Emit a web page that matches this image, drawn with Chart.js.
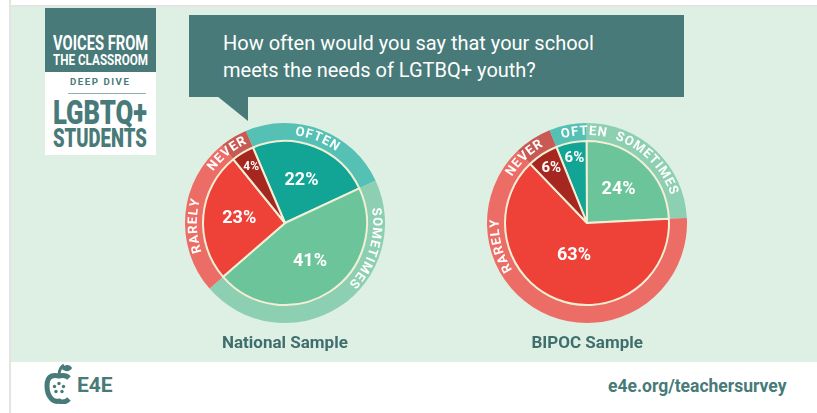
<!DOCTYPE html>
<html>
<head>
<meta charset="utf-8">
<script src="https://cdn.jsdelivr.net/npm/chart.js@4.4.1/dist/chart.umd.min.js"></script>
<style>
body { margin: 0; width: 817px; height: 413px; overflow: hidden; background: #fff; font-family: Roboto, sans-serif; position: relative; }
#vline { position: absolute; left: 9px; top: 0; width: 2px; height: 413px; background: #e4e4e4; }
#hline { position: absolute; left: 9px; top: 5px; width: 808px; height: 2px; background: #e4e4e4; }
#panel { position: absolute; left: 11px; top: 7px; width: 806px; height: 355px; background: #deefe3; }
.abs { position: absolute; white-space: nowrap; line-height: 1; }
.fit { transform-origin: 0 0; }
#logoTop { position: absolute; left: 45px; top: 8px; width: 111px; height: 64px; background: #477a78; }
#logoBot { position: absolute; left: 45px; top: 72px; width: 111px; height: 83px; background: #fff; }
#logoRule { position: absolute; left: 68px; top: 93px; width: 78px; height: 1px; background: #8fb0ae; }
#bubble { position: absolute; left: 189px; top: 15px; width: 495px; height: 82px; background: #477a78; }
.q { color: #fff; font-size: 20px; left: 223px; }
.cap { color: #3f6f6d; font-weight: bold; font-size: 17px; }
canvas { position: absolute; }
</style>
</head>
<body>
<div id="vline"></div>
<div id="hline"></div>
<div id="panel"></div>

<div id="logoTop"></div>
<svg class="abs" style="left:0;top:0" width="200" height="100"><polygon points="55,71 67,71 67,81" fill="#477a78"/></svg>
<div id="logoBot"></div>
<div id="logoRule"></div>
<div class="abs fit" data-w="95" data-cx="100" style="top:33px;font-size:20px;font-weight:bold;color:#fff">VOICES FROM</div>
<div class="abs fit" data-w="95" data-cx="100" style="top:53px;font-size:15px;font-weight:bold;color:#fff">THE CLASSROOM</div>
<div class="abs fit" data-w="60" data-cx="100" style="top:77px;font-size:9.5px;font-weight:bold;letter-spacing:1.5px;color:#477a78">DEEP DIVE</div>
<div class="abs fit" data-w="94" data-cx="100" style="top:96px;font-size:33px;font-weight:900;color:#477a78">LGBTQ+</div>
<div class="abs fit" data-w="94" data-cx="100" style="top:125px;font-size:26px;font-weight:900;color:#477a78">STUDENTS</div>

<div id="bubble"></div>
<svg class="abs" style="left:0;top:0" width="300" height="130"><polygon points="217,96 248,96 248,121" fill="#477a78"/></svg>
<div class="abs q" style="top:33px">How often would you say that your school</div>
<div class="abs q" style="top:60px">meets the needs of LGTBQ+ youth?</div>

<canvas id="chartNational" width="220" height="220" style="left:175px;top:113px"></canvas>
<canvas id="chartBipoc" width="220" height="220" style="left:477px;top:113px"></canvas>
<div class="abs cap" id="cap0" style="top:334px"></div>
<div class="abs cap" id="cap1" style="top:334px"></div>

<svg class="abs" style="left:44px;top:362px" width="32" height="42" viewBox="0 0 32 42">
  <path d="M15 13 C15 9 17 5 20 3" stroke="#477a78" stroke-width="3" fill="none"/>
  <path d="M18 7 C20 2 26 2 28 6 C26 10 21 10 18 7 Z" fill="#477a78"/>
  <path d="M25 16 C21 12 17 14 15 14 C11 13 3 12 3 24 C3 34 9 41 15 39 C17 40 21 41 25 37" stroke="#477a78" stroke-width="5" fill="none"/>
  <circle cx="15" cy="21.5" r="1.7" fill="#477a78"/>
  <circle cx="19.5" cy="24.5" r="1.7" fill="#477a78"/>
  <circle cx="18" cy="29.5" r="1.7" fill="#477a78"/>
  <circle cx="12" cy="29.5" r="1.7" fill="#477a78"/>
  <circle cx="10.5" cy="24.5" r="1.7" fill="#477a78"/>
</svg>
<div class="abs" style="left:77px;top:375px;font-size:21px;font-weight:bold;color:#477a78">E4E</div>
<div class="abs fit" data-w="179" data-cx="697" style="top:377px;font-size:18px;font-weight:bold;color:#477a78">e4e.org/teachersurvey</div>

<script>
// Data
const categories = ['Often', 'Sometimes', 'Rarely', 'Never'];
const nationalValues = [22, 41, 23, 4];
const bipocValues = [6, 24, 63, 6];
const sampleNames = ['National Sample', 'BIPOC Sample'];

// Colors
const sliceColors = ['#12a494', '#6cc59a', '#ee4137', '#a6271f'];
const ringColors = ['#55c1b4', '#8dcfb1', '#ec6c66', '#c85a54'];
const lineColor = '#f2efd6';

// Where each curved label sits (degrees clockwise from top) and where each pie starts
const ringLabelDeg = [[21, 107, 268, 320], [358, 45, 255, 316]];
const rotations = [-23, -22];

// Curved ring labels and percentage labels
function labelPlugin(idx) {
    return {
        id: 'labels' + idx,
        afterDatasetsDraw(chart) {
            const ctx = chart.ctx;
            ctx.save();
            ctx.fillStyle = '#fff';
            ctx.textAlign = 'center';
            ctx.textBaseline = 'middle';

            // ring text
            ctx.font = 'bold 13px Roboto';
            chart.getDatasetMeta(0).data.forEach((arc, i) => {
                const p = arc.getProps(['x', 'y', 'innerRadius', 'outerRadius']);
                const r = (p.innerRadius + p.outerRadius) / 2 + 0.5;
                const chars = [...categories[i].toUpperCase()];
                const gap = 1.3;
                const widths = chars.map(c => ctx.measureText(c).width);
                const total = widths.reduce((a, b) => a + b, 0) + gap * (chars.length - 1);
                let a = (ringLabelDeg[idx][i] - 90) * Math.PI / 180 - total / 2 / r;
                chars.forEach((c, k) => {
                    const ca = a + widths[k] / 2 / r;
                    ctx.save();
                    ctx.translate(p.x + r * Math.cos(ca), p.y + r * Math.sin(ca));
                    ctx.rotate(ca + Math.PI / 2);
                    ctx.fillText(c, 0, 0);
                    ctx.restore();
                    a += (widths[k] + gap) / r;
                });
            });

            // percentages
            const values = chart.data.datasets[1].data;
            chart.getDatasetMeta(1).data.forEach((arc, i) => {
                const p = arc.getProps(['x', 'y', 'startAngle', 'endAngle', 'outerRadius']);
                const frac = (p.endAngle - p.startAngle) / (2 * Math.PI);
                const mid = (p.startAngle + p.endAngle) / 2;
                const k = frac < 0.08 ? 0.8 : (frac > 0.5 ? 0.43 : 0.56);
                const v = values[i];
                const size = v < 5 ? 12 : (v < 8 ? 15 : 18);
                ctx.font = 'bold ' + size + 'px Roboto';
                ctx.fillText(v + '%', p.x + Math.cos(mid) * p.outerRadius * k, p.y + Math.sin(mid) * p.outerRadius * k);
            });
            ctx.restore();
        }
    };
}

function createPie(canvasId, values, idx) {
    new Chart(document.getElementById(canvasId), {
        type: 'pie',
        data: {
            labels: categories,
            datasets: [{
                data: values,
                backgroundColor: ringColors,
                borderWidth: 0,
                weight: 18,
                order: 1
            }, {
                data: values,
                backgroundColor: sliceColors,
                borderColor: lineColor,
                borderWidth: 2,
                weight: 82,
                order: 0
            }]
        },
        options: {
            responsive: false,
            animation: false,
            rotation: rotations[idx],
            layout: { padding: 10 },
            events: [],
            plugins: { legend: { display: false }, tooltip: { enabled: false } }
        },
        plugins: [labelPlugin(idx)]
    });
}

function fitTexts() {
    document.querySelectorAll('.fit').forEach(el => {
        const w = el.offsetWidth;
        const s = Number(el.dataset.w) / w;
        el.style.left = (Number(el.dataset.cx) - Number(el.dataset.w) / 2) + 'px';
        el.style.transform = 'scaleX(' + s + ')';
    });
    [0, 1].forEach(i => {
        const el = document.getElementById('cap' + i);
        el.textContent = sampleNames[i];
        const cx = i === 0 ? 285 : 587;
        el.style.left = (cx - el.offsetWidth / 2) + 'px';
    });
}

document.fonts.ready.then(() => {
    fitTexts();
    createPie('chartNational', nationalValues, 0);
    createPie('chartBipoc', bipocValues, 1);
});
</script>
</body>
</html>
